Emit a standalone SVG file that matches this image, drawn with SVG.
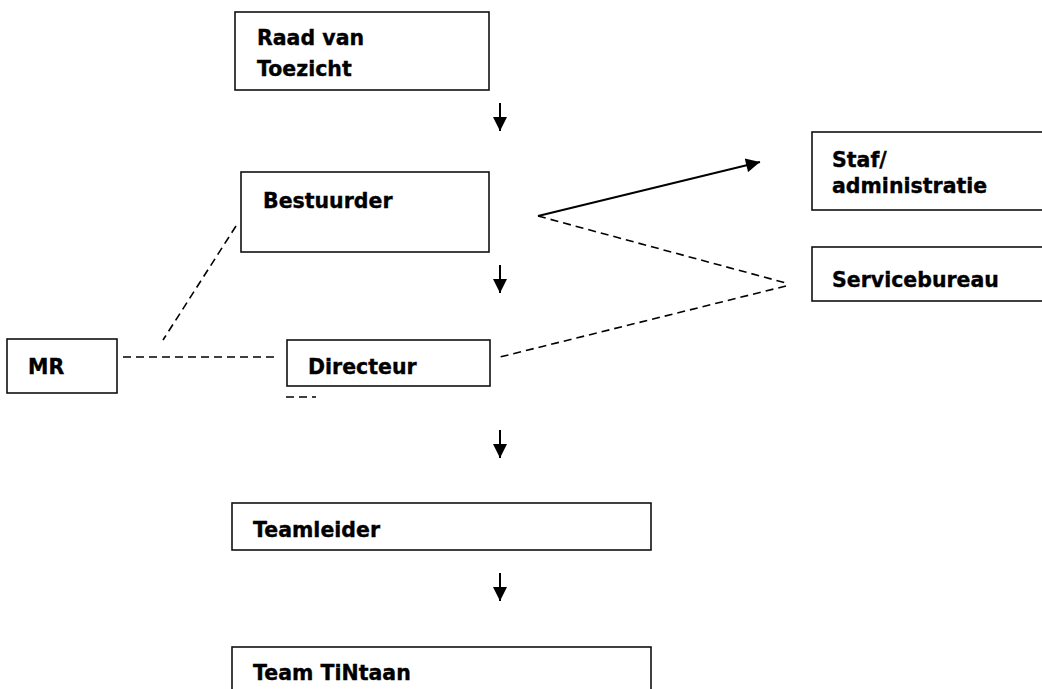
<svg xmlns="http://www.w3.org/2000/svg" width="1042" height="689" viewBox="0 0 1042 689">
<style>
.box{fill:#fff;stroke:#111;stroke-width:1.6}
.lbl{font-family:"DejaVu Sans",Verdana,sans-serif;font-weight:bold;font-size:20.5px;fill:#000;stroke:#000;stroke-width:0.35}
.solid{stroke:#000;stroke-width:2;fill:none}
.dash{stroke:#000;stroke-width:1.6;fill:none;stroke-dasharray:8,5}
</style>
<defs>
<marker id="ah" viewBox="0 0 10 10" refX="10" refY="5" markerWidth="15" markerHeight="14" markerUnits="userSpaceOnUse" orient="auto">
<path d="M0,0 L10,5 L0,10 z" fill="#000"/>
</marker>
</defs>
<rect width="1042" height="689" fill="#fff"/>
<g id="connectors">
<line class="solid" x1="500" y1="103" x2="500" y2="131" marker-end="url(#ah)"/>
<line class="solid" x1="500" y1="265" x2="500" y2="293" marker-end="url(#ah)"/>
<line class="solid" x1="500" y1="430" x2="500" y2="458" marker-end="url(#ah)"/>
<line class="solid" x1="500" y1="573" x2="500" y2="601" marker-end="url(#ah)"/>
<line class="solid" x1="538" y1="216" x2="760" y2="162" marker-end="url(#ah)"/>
<line class="dash" x1="538" y1="216" x2="786" y2="283"/>
<line class="dash" x1="786" y1="286" x2="500" y2="357"/>
<line class="dash" x1="236" y1="226" x2="163" y2="340"/>
<line class="dash" x1="123" y1="357" x2="276" y2="357"/>
<line class="dash" x1="286" y1="397" x2="316" y2="397"/>
</g>
<g id="raad">
<rect class="box" x="235" y="12" width="254" height="78"/>
<text class="lbl" x="257" y="45">Raad van</text>
<text class="lbl" x="257" y="76">Toezicht</text>
</g>
<g id="bestuurder">
<rect class="box" x="241" y="172" width="248" height="80"/>
<text class="lbl" x="263" y="208">Bestuurder</text>
</g>
<g id="staf">
<rect class="box" x="812" y="132" width="240" height="78"/>
<text class="lbl" x="832" y="167">Staf/</text>
<text class="lbl" x="832" y="193">administratie</text>
</g>
<g id="servicebureau">
<rect class="box" x="812" y="247" width="240" height="54"/>
<text class="lbl" x="832" y="287">Servicebureau</text>
</g>
<g id="mr">
<rect class="box" x="7" y="339" width="110" height="54"/>
<text class="lbl" x="28" y="374">MR</text>
</g>
<g id="directeur">
<rect class="box" x="287" y="340" width="203" height="46"/>
<text class="lbl" x="308" y="374">Directeur</text>
</g>
<g id="teamleider">
<rect class="box" x="232" y="503" width="419" height="47"/>
<text class="lbl" x="253" y="537">Teamleider</text>
</g>
<g id="team">
<rect class="box" x="232" y="647" width="419" height="60"/>
<text class="lbl" x="253" y="680">Team TiNtaan</text>
</g>
</svg>
